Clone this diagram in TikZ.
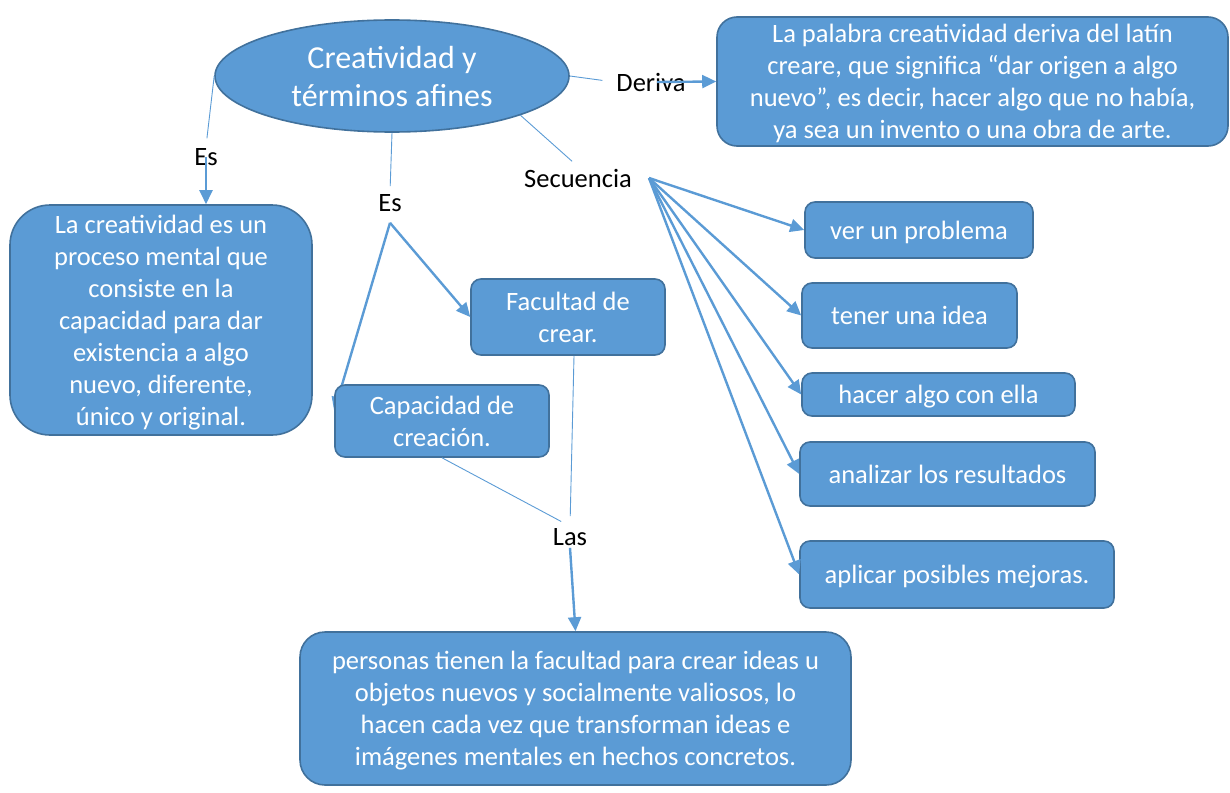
\documentclass[tikz,border=0pt]{standalone}
\usepackage{fontspec}
\setmainfont{Carlito}
\usetikzlibrary{shapes.geometric,arrows.meta}
\definecolor{boxfill}{HTML}{5B9BD5}
\definecolor{boxline}{HTML}{41719C}
\pgfdeclarelayer{behind}
\pgfsetlayers{behind,main}
\begin{document}
\begin{tikzpicture}[x=1pt,y=-1pt,
  box/.style={draw=boxline,fill=boxfill,line width=1.6pt,rounded corners=10pt,text=white,align=center,inner sep=0pt,font=\fontsize{26.5}{32}\selectfont,text depth=0pt},
  tag/.style={font=\fontsize{26.5}{32}\selectfont,inner sep=2pt},
  link/.style={draw=boxfill,line width=0.9pt},
  arr/.style={draw=boxfill,line width=2.4pt,-{Triangle[length=14pt,width=13pt]}}]
\useasboundingbox (0,0) rectangle (1230,792);
\node[box,ellipse,minimum width=354pt,minimum height=112pt,font=\fontsize{32}{38}\selectfont] (ell) at (392,76) {Creatividad y\\términos afines};
\node[box,rounded corners=20pt,minimum width=511pt,minimum height=129pt] (deriv) at (972.5,81.5) {La palabra creatividad deriva del latín\\creare, que significa “dar origen a algo\\nuevo”, es decir, hacer algo que no había,\\ya sea un invento o una obra de arte.};
\node[box,rounded corners=40pt,minimum width=302pt,minimum height=230pt] (proc) at (161,320) {La creatividad es un\\proceso mental que\\consiste en la\\capacidad para dar\\existencia a algo\\nuevo, diferente,\\único y original.};
\node[box,minimum width=194pt,minimum height=76pt] (fac) at (568,317) {Facultad de\\crear.};
\node[box,minimum width=214pt,minimum height=72pt] (cap) at (442,421) {Capacidad de\\creación.};
\node[box,rounded corners=25pt,minimum width=551pt,minimum height=153pt] (pers) at (575.5,708.5) {personas tienen la facultad para crear ideas u\\objetos nuevos y socialmente valiosos, lo\\hacen cada vez que transforman ideas e\\imágenes mentales en hechos concretos.};
\node[box,minimum width=228pt,minimum height=56pt] (s1) at (919,230) {ver un problema};
\node[box,minimum width=215pt,minimum height=65pt] (s2) at (909.5,315.5) {tener una idea};
\node[box,minimum width=273pt,minimum height=43pt] (s3) at (938.5,394.5) {hacer algo con ella};
\node[box,minimum width=295pt,minimum height=64pt] (s4) at (947.5,474) {analizar los resultados};
\node[box,minimum width=314pt,minimum height=67pt] (s5) at (957,574.5) {aplicar posibles mejoras.};
\node[tag] (es1) at (206,157) {Es};
\node[tag] (deriva) at (651,82) {Deriva};
\node[tag] (es2) at (390,203) {Es};
\node[tag] (secu) at (578,178) {Secuencia};
\node[tag] (las) at (570,537) {Las};
\coordinate (fan) at ([xshift=15pt]secu.east);
\draw[link,shorten >=8pt] (ell.west) -- (es1.north);
\draw[arr] (es1.center) -- (es1.center |- proc.north);
\draw[link,shorten >=12pt] (ell.east) -- (deriva.west);
\draw[arr] ([xshift=6pt]deriva.center) -- (deriv.west);
\draw[link,shorten >=6pt] (ell.south) -- (es2.north);
\draw[arr] ([yshift=-9pt]es2.south) -- (fac.west);
\begin{pgfonlayer}{behind}
\draw[arr] ([yshift=-9pt]es2.south) -- ([xshift=0pt,yshift=-27pt]cap.north west);
\end{pgfonlayer}
\draw[link,shorten >=8pt] (ell.-17) -- (secu.north);
\foreach \s in {s1,s2,s3,s4,s5}
  \draw[arr] (fan) -- (\s.west);
\draw[link,shorten >=10pt] ([xshift=6pt]fac.south) -- (las.north);
\draw[link,shorten >=10pt] (cap.south) -- (las.north);
\draw[arr] (las.south) -- (pers.north);
\end{tikzpicture}
\end{document}
